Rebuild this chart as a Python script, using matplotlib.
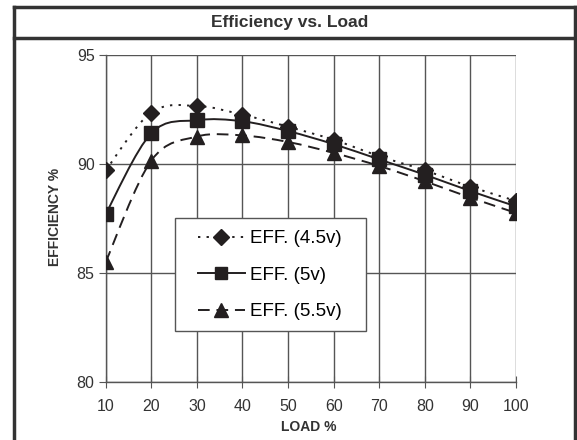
import numpy as np
import matplotlib
matplotlib.use('Agg')
from matplotlib import pyplot as plt
from matplotlib.path import Path
from matplotlib.patches import PathPatch, Rectangle
from matplotlib.lines import Line2D
plt.rcParams['font.family'] = ['Liberation Sans', 'DejaVu Sans']

load = [10, 20, 30, 40, 50, 60, 70, 80, 90, 100]
eff_45 = [89.7, 92.35, 92.65, 92.25, 91.7, 91.1, 90.35, 89.7, 88.95, 88.3]
eff_50 = [87.7, 91.4, 92.0, 91.95, 91.5, 90.9, 90.2, 89.5, 88.75, 88.05]
eff_55 = [85.5, 90.15, 91.25, 91.3, 91.0, 90.5, 89.9, 89.2, 88.45, 87.75]
labels = ['EFF. (4.5v)', 'EFF. (5v)', 'EFF. (5.5v)']

ink = '#231f20'


def smooth_path(xs, ys):
    # Catmull-Rom style smoothing as cubic bezier segments (like Excel's smoothed line)
    pts = np.column_stack([xs, ys]).astype(float)
    verts = [pts[0]]
    codes = [Path.MOVETO]
    n = len(pts)
    for i in range(n - 1):
        p0 = pts[i - 1] if i > 0 else pts[i]
        p1 = pts[i]
        p2 = pts[i + 1]
        p3 = pts[i + 2] if i + 2 < n else pts[i + 1]
        c1 = p1 + (p2 - p0) / 6.0
        c2 = p2 - (p3 - p1) / 6.0
        verts += [c1, c2, p2]
        codes += [Path.CURVE4] * 3
    return Path(verts, codes)


W, H = 577, 440
L, R, T, B = 105.7, 516, 54.7, 382
fig = plt.figure(figsize=(W / 100, H / 100), dpi=100)
ax = fig.add_axes([L / W, 1 - B / H, (R - L) / W, (B - T) / H])


def axfrac(px, py):
    return (px - L) / (R - L), 1 - (py - T) / (B - T)


styles = [
    dict(marker='D', ms=8.3, ls=(0, (1.2, 3.2))),
    dict(marker='s', ms=9.5, ls='-'),
    dict(marker='^', ms=10, ls=(0, (6, 3.5))),
]
for ys, lab, st in zip([eff_45, eff_50, eff_55], labels, styles):
    ax.add_patch(PathPatch(smooth_path(load, ys), fill=False, ec=ink, lw=1.4,
                           ls=st['ls'], zorder=3))
    ax.plot(load, ys, ls='none', marker=st['marker'], ms=st['ms'], color=ink, zorder=4)

# legend box drawn separately, legend itself without frame
bx0, by0 = axfrac(175, 331)
bx1, by1 = axfrac(366, 218)
ax.add_patch(Rectangle((bx0, by0), bx1 - bx0, by1 - by0, transform=ax.transAxes,
                       fc='white', ec='#555555', lw=1.0, zorder=5))
handles = [Line2D([], [], color=ink, lw=1.4, ls=st['ls'], marker=st['marker'],
                  ms=st['ms'] * 0.95) for st in styles]
leg = ax.legend(handles, labels, loc='upper left', bbox_to_anchor=axfrac(198, 230),
                frameon=False, fontsize=13.5, handlelength=2.5, handletextpad=0.25,
                labelspacing=1.04, borderpad=0, borderaxespad=0)
leg.set_zorder(6)

ax.set_xlim(10, 100)
ax.set_ylim(80, 95)
ax.set_xticks(load)
ax.set_yticks([80, 85, 90, 95])
ax.grid(True, color='#555555', lw=1.0)
ax.set_axisbelow(True)
for s in ['top', 'right']:
    ax.spines[s].set_visible(False)
for s in ['left', 'bottom']:
    ax.spines[s].set_color('#555555')
    ax.spines[s].set_linewidth(1.0)
ax.tick_params(axis='y', direction='out', length=5, color='#555555', labelsize=11.5, pad=3)
ax.tick_params(axis='x', direction='inout', length=8, color='#555555', labelsize=11.5, pad=8)
for t in ax.get_xticklabels() + ax.get_yticklabels():
    t.set_color('#333333')

fig.text(309 / W, 1 - 427 / H, 'LOAD %', ha='center', va='center', fontsize=10,
         fontweight='bold', color='#333333')
fig.text(55 / W, 1 - 217 / H, 'EFFICIENCY %', ha='center', va='center', fontsize=10,
         fontweight='bold', color='#333333', rotation=90)
fig.text(290 / W, 1 - 23 / H, 'Efficiency vs. Load', ha='center', va='center', fontsize=12.5,
         fontweight='bold', color='#333333')

# outer chart frame and title separator
fw = 2.5
frame = '#333333'
x0, x1 = 14 / W, 575 / W
ytop, ysep = 1 - 6.7 / H, 1 - 38.5 / H
fig.add_artist(Line2D([x0, x1], [ytop, ytop], color=frame, lw=fw, transform=fig.transFigure))
fig.add_artist(Line2D([x0, x1], [ysep, ysep], color=frame, lw=fw, transform=fig.transFigure))
fig.add_artist(Line2D([x0, x0], [ytop, -0.01], color=frame, lw=fw, transform=fig.transFigure))
fig.add_artist(Line2D([x1, x1], [ytop, -0.01], color=frame, lw=fw, transform=fig.transFigure))

fig.savefig('out.png', dpi=100)
